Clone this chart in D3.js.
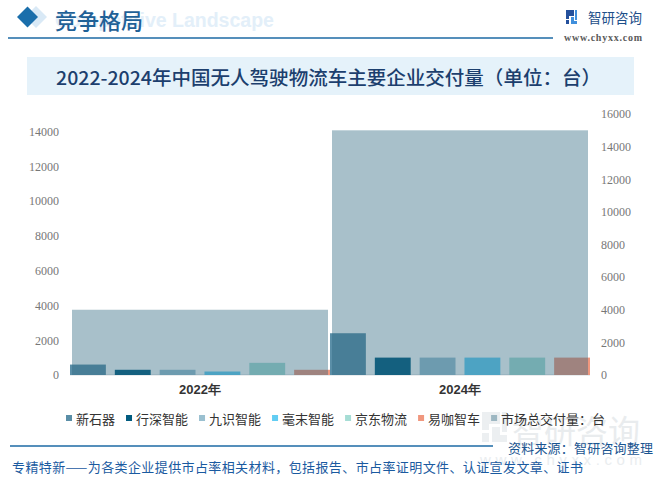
<!DOCTYPE html>
<html><head><meta charset="utf-8">
<script src="https://cdn.jsdelivr.net/npm/d3@7/dist/d3.min.js"></script>
<style>
html,body{margin:0;padding:0;background:#fff;}
svg{display:block;font-family:"Noto Sans CJK SC","Noto Sans",sans-serif;}
</style></head>
<body><svg id="c" width="665" height="486"></svg>
<script>
// ---- data ----
const years = ["2022年", "2024年"];
const companies = ["新石器", "行深智能", "九识智能", "毫末智能", "京东物流", "易咖智车"];
const xinshiqi = [600, 2400];
const xingshen = [300, 1000];
const jiushi = [300, 1000];
const haomo = [200, 1000];
const jingdong = [700, 1000];
const yika = [300, 1000];
const marketTotal = [4000, 15000];
const totalName = "市场总交付量：台";
const leftTicks = [0, 2000, 4000, 6000, 8000, 10000, 12000, 14000];
const rightTicks = [0, 2000, 4000, 6000, 8000, 10000, 12000, 14000, 16000];
const companyColors = ["#5a8ea7", "#005b7f", "#9ac0d0", "#62cdf3", "#a6ddd5", "#f0977e"];
const totalColor = "#306981";
const totalOpacity = 0.42;

const series = [xinshiqi, xingshen, jiushi, haomo, jingdong, yika];

const svg = d3.select("#c");

// ---- watermark bottom right (background) ----
const wm = svg.append("g");
wm.append("path").attr("d", "M482,412 H500 V424 H489 V430 H482 Z M482,433 H489 V442 H482 Z M492,427 H500 V435 H507 V442 H492 Z M502,412 H507 V432 H502 Z").attr("fill", "#eceff1");
wm.append("text").attr("x", 512).attr("y", 429).attr("dominant-baseline", "central")
  .attr("font-size", 32).attr("fill", "#e9ecee").text("智研咨询");
wm.append("text").attr("x", 480).attr("y", 459).attr("dominant-baseline", "central")
  .attr("font-family", "Liberation Sans, Arial, sans-serif")
  .attr("font-size", 15).attr("fill", "#eaedef").attr("textLength", 162).text("www.chyxx.com");

// ---- header ----
svg.append("path").attr("d", "M36,6 L47,17 L36,28 L25,17 Z").attr("fill", "#d9e9f6");
svg.append("path").attr("d", "M27.5,6.5 L38,17 L27.5,27.5 L17,17 Z").attr("fill", "#1a6eab");
svg.append("text").attr("x", 55).attr("y", 20).attr("dominant-baseline", "central")
  .attr("font-family", "Liberation Sans, Arial, sans-serif").attr("font-weight", "bold")
  .attr("font-size", 19.5).attr("fill", "#e3eff9").text("Competitive Landscape");
svg.append("text").attr("x", 55).attr("y", 19).attr("dominant-baseline", "central")
  .attr("font-size", 22).attr("font-weight", 500).attr("fill", "#1f6197").text("竞争格局");
svg.append("line").attr("x1", 8).attr("x2", 553).attr("y1", 38).attr("y2", 38)
  .attr("stroke", "#1d6aa5").attr("stroke-width", 1.6);
// logo
const lg = svg.append("g").attr("transform", "translate(566,10)");
lg.append("path").attr("d", "M0,0 H8 V6 H3 V9 H0 Z").attr("fill", "#24509c");
lg.append("path").attr("d", "M0,10 H3 V14 H0 Z").attr("fill", "#24509c");
lg.append("path").attr("d", "M5,7 H8 V11 H11 V14 H5 Z").attr("fill", "#3f8fdc");
lg.append("path").attr("d", "M9,0 H11 V10 H9 Z").attr("fill", "#3f8fdc");
svg.append("text").attr("x", 588).attr("y", 17).attr("dominant-baseline", "central")
  .attr("font-size", 13.5).attr("fill", "#1d4f8a").text("智研咨询");
svg.append("text").attr("x", 564).attr("y", 37).attr("dominant-baseline", "central")
  .attr("font-family", "Liberation Serif, serif").attr("font-weight", "bold")
  .attr("font-size", 10).attr("fill", "#5a5a5a").attr("textLength", 78).text("www.chyxx.com");

// ---- title band ----
svg.append("rect").attr("x", 27).attr("y", 57).attr("width", 607).attr("height", 38).attr("fill", "#e5f2fa");
svg.append("text").attr("x", 56).attr("y", 76).attr("dominant-baseline", "central")
  .attr("font-size", 19).attr("font-weight", 500).attr("fill", "#1c3f6e")
  .attr("textLength", 545).attr("lengthAdjust", "spacingAndGlyphs")
  .text("2022-2024年中国无人驾驶物流车主要企业交付量（单位：台）");

// ---- scales ----
const x0 = d3.scaleBand().domain(years).range([70, 590]).padding(0);
const x1 = d3.scaleBand().domain(companies).range([0, x0.bandwidth()]).paddingInner(0.2).paddingOuter(0);
const yL = d3.scaleLinear().domain([0, 15000]).range([375, 114]);
const yR = d3.scaleLinear().domain([0, 16000]).range([375, 114]);

// axes (labels only)
const axL = svg.append("g").attr("transform", "translate(59,0)")
  .call(d3.axisLeft(yL).tickValues(leftTicks).tickSize(0).tickPadding(0).tickFormat(d3.format("d")));
const axR = svg.append("g").attr("transform", "translate(601,0)")
  .call(d3.axisRight(yR).tickValues(rightTicks).tickSize(0).tickPadding(0).tickFormat(d3.format("d")));
[axL, axR].forEach(a => {
  a.select(".domain").remove();
  a.selectAll("text").attr("font-family", "Liberation Serif, serif").attr("font-size", 12).attr("fill", "#777");
});

// baseline
svg.append("line").attr("x1", 70).attr("x2", 590).attr("y1", yL(0)).attr("y2", yL(0))
  .attr("stroke", "#d3dade").attr("stroke-width", 1);

// company bars
const gBars = svg.append("g");
years.forEach((yr, i) => {
  companies.forEach((c, j) => {
    const v = series[j][i];
    gBars.append("rect")
      .attr("x", x0(yr) + x1(c)).attr("width", x1.bandwidth())
      .attr("y", yL(v)).attr("height", yL(0) - yL(v))
      .attr("fill", companyColors[j]);
  });
});

// market total overlay bars (right axis)
svg.append("g").selectAll("rect").data(years).join("rect")
  .attr("x", d => x0(d) + 2).attr("width", x0.bandwidth() - 4)
  .attr("y", (d, i) => yR(marketTotal[i])).attr("height", (d, i) => yR(0) - yR(marketTotal[i]))
  .attr("fill", totalColor).attr("fill-opacity", totalOpacity);

// category labels
const axX = svg.append("g").attr("transform", "translate(0,382)")
  .call(d3.axisBottom(x0).tickSize(0).tickPadding(0));
axX.select(".domain").remove();
axX.selectAll("text").attr("font-size", 13).attr("font-weight", "bold").attr("fill", "#333")
  .attr("dy", "0.9em");

// ---- legend ----
const legendItems = companies.map((c, j) => ({ name: c, color: companyColors[j], op: 1 }))
  .concat([{ name: totalName, color: totalColor, op: totalOpacity }]);
const lgG = svg.append("g");
let lx = 66;
legendItems.forEach(it => {
  lgG.append("rect").attr("x", lx).attr("y", 415).attr("width", 6).attr("height", 6)
    .attr("fill", it.color).attr("fill-opacity", it.op);
  const t = lgG.append("text").attr("x", lx + 10).attr("y", 418).attr("dominant-baseline", "central")
    .attr("font-size", 13).attr("fill", "#333").text(it.name);
  const w = t.node().getComputedTextLength();
  lx += 10 + w + 11;
});

// ---- footer ----
svg.append("line").attr("x1", 10).attr("x2", 493).attr("y1", 446).attr("y2", 446)
  .attr("stroke", "#1d6aa5").attr("stroke-width", 1.5);
svg.append("text").attr("x", 508).attr("y", 447).attr("dominant-baseline", "central")
  .attr("font-size", 13).attr("fill", "#1a5590").attr("textLength", 145).text("资料来源：智研咨询整理");
svg.append("text").attr("x", 12).attr("y", 466).attr("dominant-baseline", "central")
  .attr("font-size", 13).attr("fill", "#1a5aa0").attr("textLength", 571)
  .text("专精特新——为各类企业提供市占率相关材料，包括报告、市占率证明文件、认证宣发文章、证书");
</script></body></html>
